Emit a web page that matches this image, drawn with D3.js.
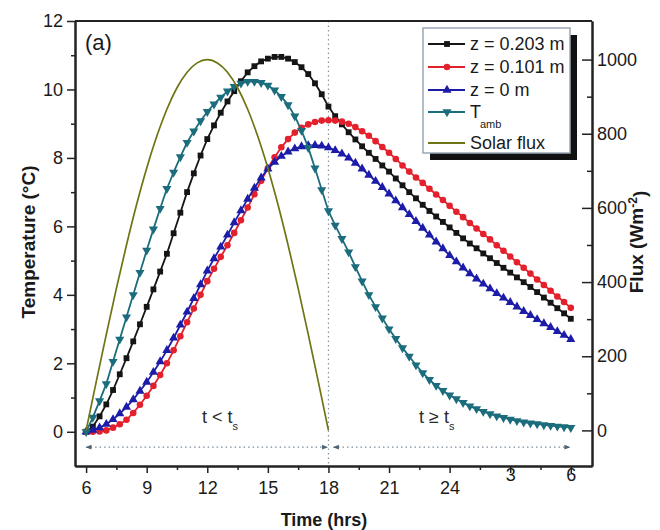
<!DOCTYPE html>
<html>
<head>
<meta charset="utf-8">
<script src="https://cdn.jsdelivr.net/npm/d3@7"></script>
<style>
  body { margin: 0; background: #fff; }
  text { font-family: "Liberation Sans", Arial, sans-serif; fill: #1a1a1a; }
</style>
</head>
<body>
<svg id="chart" width="660" height="530"></svg>
<script>
// sampling: every 20 minutes from 6h to 30h (6h next morning)
var hours = d3.range(73).map(function (i) { return 6 + i / 3; });

// temperature (°C)
var z203 = [
  0, 0.15, 0.45, 0.8, 1.22, 1.68, 2.15, 2.64, 3.14, 3.65, 4.16, 4.68,
  5.2, 5.8, 6.4, 7.0, 7.55, 8.07, 8.55, 8.95, 9.32, 9.65, 9.95, 10.24,
  10.5, 10.68, 10.82, 10.9, 10.95, 10.95, 10.9, 10.8, 10.65, 10.45, 10.18, 9.86,
  9.5, 9.22, 8.98, 8.75, 8.54, 8.34, 8.15, 7.97, 7.78, 7.6, 7.4, 7.2,
  7.0, 6.82, 6.63, 6.45, 6.29, 6.13, 5.97, 5.81, 5.65, 5.5, 5.36, 5.21,
  5.07, 4.93, 4.79, 4.65, 4.51, 4.37, 4.23, 4.08, 3.92, 3.77, 3.61, 3.46,
  3.3
];
var z101 = [
  0, 0, 0.01, 0.04, 0.12, 0.22, 0.35, 0.55, 0.79, 1.05, 1.34, 1.66,
  2.0, 2.38, 2.79, 3.2, 3.6, 4.0, 4.4, 4.76, 5.11, 5.45, 5.81, 6.18,
  6.55, 6.94, 7.33, 7.7, 8.02, 8.31, 8.55, 8.74, 8.88, 8.98, 9.05, 9.09,
  9.1, 9.09, 9.06, 9.0, 8.9, 8.78, 8.65, 8.49, 8.32, 8.15, 7.97, 7.78,
  7.6, 7.43, 7.27, 7.1, 6.93, 6.77, 6.6, 6.43, 6.27, 6.1, 5.94, 5.78,
  5.62, 5.45, 5.29, 5.12, 4.95, 4.79, 4.62, 4.45, 4.29, 4.12, 3.95, 3.79,
  3.62
];
var z0 = [
  0, 0.05, 0.12, 0.22, 0.36, 0.53, 0.72, 0.94, 1.19, 1.45, 1.74, 2.05,
  2.38, 2.74, 3.12, 3.5, 3.9, 4.3, 4.7, 5.06, 5.4, 5.75, 6.11, 6.46,
  6.8, 7.12, 7.42, 7.68, 7.88, 8.05, 8.18, 8.27, 8.33, 8.36, 8.37, 8.35,
  8.3, 8.22, 8.12, 8.0, 7.85, 7.68, 7.5, 7.32, 7.14, 6.95, 6.75, 6.55,
  6.35, 6.15, 5.95, 5.75, 5.55, 5.35, 5.15, 4.97, 4.79, 4.62, 4.47, 4.32,
  4.18, 4.04, 3.91, 3.78, 3.65, 3.52, 3.4, 3.28, 3.16, 3.05, 2.93, 2.82,
  2.7
];
var tAmb = [
  0, 0.42, 0.9, 1.4, 2.05, 2.7, 3.35, 4.0, 4.65, 5.3, 5.92, 6.52,
  7.1, 7.58, 8.03, 8.45, 8.78, 9.08, 9.35, 9.57, 9.77, 9.95, 10.08, 10.18,
  10.23, 10.23, 10.2, 10.12, 9.98, 9.79, 9.55, 9.22, 8.8, 8.3, 7.7, 7.07,
  6.45, 6.03, 5.64, 5.25, 4.82, 4.4, 4.0, 3.65, 3.32, 3.0, 2.72, 2.45,
  2.2, 1.95, 1.72, 1.52, 1.35, 1.2, 1.07, 0.96, 0.85, 0.75, 0.67, 0.59,
  0.52, 0.46, 0.41, 0.36, 0.32, 0.28, 0.25, 0.23, 0.2, 0.18, 0.16, 0.14,
  0.12
];

// solar flux (W/m2), every half hour 6h..18h
var solarHours = d3.range(25).map(function (i) { return 6 + i / 2; });
var solarFlux = [0, 131, 259, 383, 500, 609, 707, 793, 866, 924, 966, 991, 1000,
  991, 966, 924, 866, 793, 707, 609, 500, 383, 259, 131, 0];

// tick labels
var xTicks = [6, 9, 12, 15, 18, 21, 24, 27, 30];
var xTickLabels = ["6", "9", "12", "15", "18", "21", "24", "3", "6"];
var tempTicks = [0, 2, 4, 6, 8, 10, 12];
var fluxTicks = [0, 200, 400, 600, 800, 1000];

var series = [
  { name: "z = 0.203 m", values: z203, color: "#151515", symbol: d3.symbolSquare, size: 34 },
  { name: "z = 0.101 m", values: z101, color: "#e3202b", symbol: d3.symbolCircle, size: 34 },
  { name: "z = 0 m", values: z0, color: "#1c1ca8", symbol: d3.symbolTriangle, size: 36 },
  { name: "T", sub: "amb", values: tAmb, color: "#1b6c7c", symbol: d3.symbolTriangle, size: 36, flip: true }
];
var solarColor = "#6f7414";

var plotL = 75, plotR = 592, plotT = 21, plotB = 466;

var svg = d3.select("#chart");

var x = d3.scaleLinear().domain([5.45, 31.05]).range([plotL, plotR]);
var yT = d3.scaleLinear().domain([-1, 12]).range([plotB, plotT]);
var yF = d3.scaleLinear().domain([-96, 1104]).range([plotB, plotT]);

// dotted divider at sunset (18 h)
svg.append("line")
  .attr("x1", x(18)).attr("x2", x(18))
  .attr("y1", plotT).attr("y2", plotB)
  .attr("stroke", "#8595a6").attr("stroke-width", 1.2)
  .attr("stroke-dasharray", "1.5,3");

// arrowheads for the t < ts / t >= ts spans
var defs = svg.append("defs");
defs.append("marker").attr("id", "ahead")
  .attr("viewBox", "0 0 10 10").attr("refX", 9).attr("refY", 5)
  .attr("markerWidth", 9).attr("markerHeight", 6).attr("orient", "auto-start-reverse")
  .attr("markerUnits", "userSpaceOnUse")
  .append("path").attr("d", "M0,1 L10,5 L0,9 Z").attr("fill", "#4d6474");

var arrowY = yT(-0.45);
[[6, 17.95], [18.25, 29.95]].forEach(function (seg) {
  svg.append("line")
    .attr("x1", x(seg[0])).attr("x2", x(seg[1]))
    .attr("y1", arrowY).attr("y2", arrowY)
    .attr("stroke", "#7a8c9c").attr("stroke-width", 1.4)
    .attr("stroke-dasharray", "1.5,3")
    .attr("marker-start", "url(#ahead)")
    .attr("marker-end", "url(#ahead)");
});

// region labels
function regionLabel(px, op) {
  var t = svg.append("text").attr("x", px).attr("y", 423)
    .style("font-size", "18px").style("fill", "#2a2a2a");
  t.append("tspan").text("t " + op + " t");
  t.append("tspan").attr("dy", 7).style("font-size", "11px").text("s");
}
regionLabel(202, "<");
regionLabel(419, "\u2265");

// series lines + markers
var line = d3.line()
  .x(function (d) { return x(d[0]); })
  .y(function (d) { return yT(d[1]); });

series.forEach(function (s) {
  var pts = hours.map(function (h, i) { return [h, s.values[i]]; });
  var g = svg.append("g");
  g.append("path").datum(pts)
    .attr("d", line)
    .attr("fill", "none").attr("stroke", s.color).attr("stroke-width", 1.8);
  g.selectAll("path.mk").data(pts).enter().append("path")
    .attr("class", "mk")
    .attr("d", d3.symbol().type(s.symbol).size(s.size))
    .attr("transform", function (d) {
      return "translate(" + x(d[0]) + "," + yT(d[1]) + ")" + (s.flip ? " rotate(180)" : "");
    })
    .attr("fill", s.color);
});

// solar flux on the right axis
var solarLine = d3.line()
  .x(function (d) { return x(d[0]); })
  .y(function (d) { return yF(d[1]); })
  .curve(d3.curveMonotoneX);
svg.append("path")
  .datum(solarHours.map(function (h, i) { return [h, solarFlux[i]]; }))
  .attr("d", solarLine)
  .attr("fill", "none").attr("stroke", solarColor).attr("stroke-width", 1.7);

// axes
function styleAxis(g) {
  g.select(".domain").attr("stroke", "#222").attr("stroke-width", 2);
  g.selectAll(".tick line").attr("stroke", "#222").attr("stroke-width", 1.5);
  g.selectAll(".tick text").style("font-size", "18px").attr("fill", "#1a1a1a");
}

svg.append("g").attr("transform", "translate(" + plotL + ",0)")
  .call(d3.axisLeft(yT).tickValues([1, 3, 5, 7, 9, 11]).tickSize(4).tickSizeOuter(0).tickFormat(""))
  .call(styleAxis);
svg.append("g").attr("transform", "translate(" + plotL + ",0)")
  .call(d3.axisLeft(yT).tickValues(tempTicks).tickSize(8).tickSizeOuter(0).tickPadding(4))
  .call(styleAxis);

svg.append("g").attr("transform", "translate(0," + plotB + ")")
  .call(d3.axisBottom(x).tickValues(d3.range(8).map(function (i) { return 7.5 + 3 * i; }))
    .tickSize(4).tickSizeOuter(0).tickFormat(""))
  .call(styleAxis);
var xAxisG = svg.append("g").attr("transform", "translate(0," + plotB + ")")
  .call(d3.axisBottom(x).tickValues(xTicks).tickSize(7).tickSizeOuter(0).tickPadding(8)
    .tickFormat(function (d, i) { return xTickLabels[i]; }))
  .call(styleAxis);
// the two next-morning labels sit a little higher in the original
xAxisG.selectAll(".tick text").filter(function (d) { return d > 25; })
  .attr("y", 2);

svg.append("g").attr("transform", "translate(" + plotR + ",0)")
  .call(d3.axisRight(yF).tickValues([100, 300, 500, 700, 900]).tickSize(-5).tickSizeOuter(0).tickFormat(""))
  .call(styleAxis);
svg.append("g").attr("transform", "translate(" + plotR + ",0)")
  .call(d3.axisRight(yF).tickValues(fluxTicks).tickSize(-10).tickSizeOuter(0).tickPadding(5)
    .tickFormat(d3.format("d")))
  .call(styleAxis);

// top frame line
svg.append("line")
  .attr("x1", plotL).attr("x2", plotR).attr("y1", plotT).attr("y2", plotT)
  .attr("stroke", "#222").attr("stroke-width", 2);

// axis titles
svg.append("text")
  .attr("transform", "translate(28,242) rotate(-90)")
  .attr("dy", "0.35em")
  .attr("text-anchor", "middle")
  .style("font-size", "19px").style("font-weight", "bold")
  .text("Temperature (\u00b0C)");

var fluxTitle = svg.append("text")
  .attr("transform", "translate(636,242) rotate(-90)")
  .attr("dy", "0.35em")
  .attr("text-anchor", "middle")
  .style("font-size", "19px").style("font-weight", "bold");
fluxTitle.append("tspan").text("Flux (Wm");
fluxTitle.append("tspan").attr("dy", "-0.5em").style("font-size", "12px").text("-2");
fluxTitle.append("tspan").attr("dy", "0.5em").text(")");

svg.append("text")
  .attr("x", 324).attr("y", 526)
  .attr("text-anchor", "middle")
  .style("font-size", "18px").style("font-weight", "bold")
  .text("Time (hrs)");

svg.append("text")
  .attr("x", 85).attr("y", 50)
  .style("font-size", "22px")
  .text("(a)");

// legend with drop shadow
var lg = { x: 423, y: 28, w: 147, h: 125 };
svg.append("rect")
  .attr("x", lg.x + 7).attr("y", lg.y + 7).attr("width", lg.w).attr("height", lg.h)
  .attr("fill", "#111");
svg.append("rect")
  .attr("x", lg.x).attr("y", lg.y).attr("width", lg.w).attr("height", lg.h)
  .attr("fill", "#fff").attr("stroke", "#9aa7b5").attr("stroke-width", 1.5);

var rowsY = [44, 67, 90, 112, 143];
var legendItems = series.concat([{ name: "Solar flux", color: solarColor }]);
legendItems.forEach(function (s, i) {
  var ly = rowsY[i];
  svg.append("line")
    .attr("x1", 428).attr("x2", 465).attr("y1", ly).attr("y2", ly)
    .attr("stroke", s.color).attr("stroke-width", 1.8);
  if (s.symbol) {
    svg.append("path")
      .attr("d", d3.symbol().type(s.symbol).size(s.size)())
      .attr("transform", "translate(447," + ly + ")" + (s.flip ? " rotate(180)" : ""))
      .attr("fill", s.color);
  }
  var t = svg.append("text").attr("x", 470).attr("y", ly).attr("dy", "0.35em")
    .style("font-size", "18px");
  t.append("tspan").text(s.name);
  if (s.sub) {
    t.append("tspan").attr("dy", 10).attr("dx", -1).style("font-size", "11px").text(s.sub);
  }
});
</script>
</body>
</html>
